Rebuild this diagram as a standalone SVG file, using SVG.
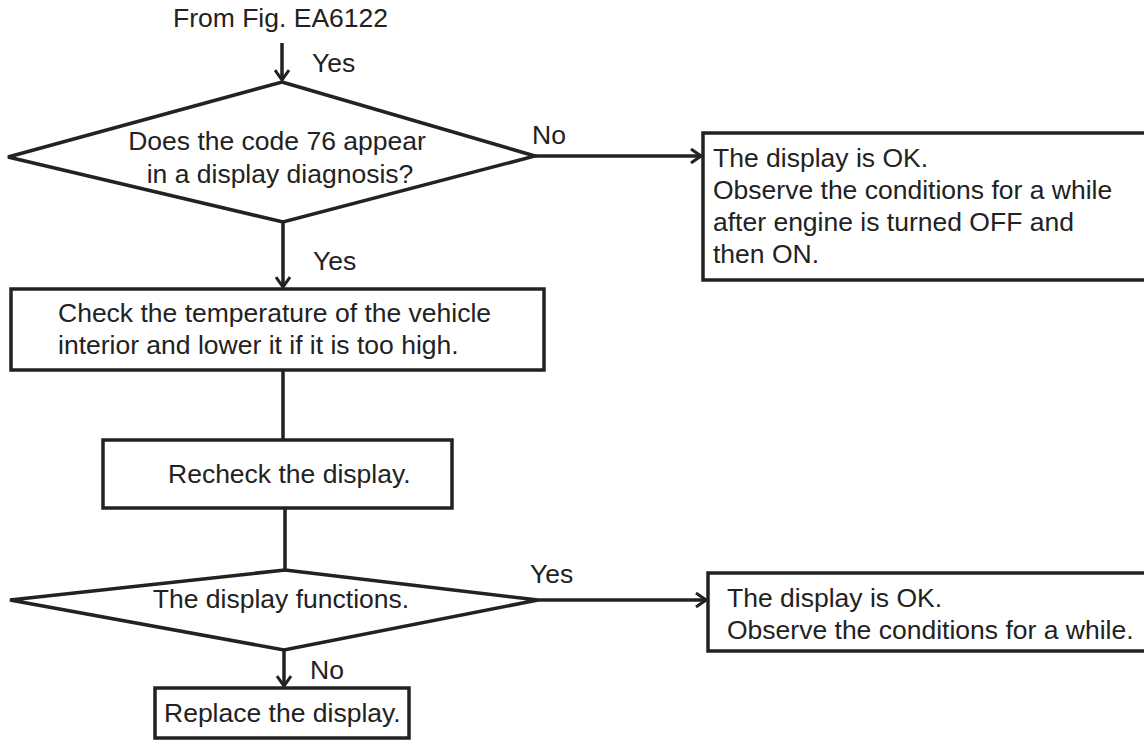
<svg xmlns="http://www.w3.org/2000/svg" width="1144" height="740" viewBox="0 0 1144 740">
<defs>
<style>
.shape{fill:#fff;stroke:#222;stroke-width:3.5;stroke-linejoin:miter}
.conn{fill:none;stroke:#222;stroke-width:3.5}
text{font-family:"Liberation Sans",Arial,sans-serif;font-size:26.5px;fill:#222}
.mid{text-anchor:middle}
</style>
<marker id="arr" viewBox="0 0 12 16" refX="11" refY="8" markerWidth="12" markerHeight="16" markerUnits="userSpaceOnUse" orient="auto">
<path d="M1,1 L11,8 L1,15" fill="none" stroke="#222" stroke-width="3"/>
</marker>
</defs>
<rect width="1144" height="740" fill="#fff"/>
<g id="start">
<text x="173" y="27">From Fig. EA6122</text>
</g>
<g id="decision1">
<polygon class="shape" points="282,82 535,156 283,222 8,157"/>
<text class="mid" x="277" y="150">Does the code 76 appear</text>
<text class="mid" x="280" y="183">in a display diagnosis?</text>
</g>
<g id="ok1">
<rect class="shape" x="703" y="133" width="460" height="147"/>
<text x="713" y="167">The display is OK.</text>
<text x="713" y="199">Observe the conditions for a while</text>
<text x="713" y="231">after engine is turned OFF and</text>
<text x="713" y="263">then ON.</text>
</g>
<g id="check">
<rect class="shape" x="11" y="289" width="533" height="81"/>
<text x="58" y="322">Check the temperature of the vehicle</text>
<text x="58" y="354">interior and lower it if it is too high.</text>
</g>
<g id="recheck">
<rect class="shape" x="103" y="440" width="349" height="68"/>
<text x="168" y="483">Recheck the display.</text>
</g>
<g id="decision2">
<polygon class="shape" points="285,570 538,600 284,650 10,600"/>
<text class="mid" x="281" y="608">The display functions.</text>
</g>
<g id="ok2">
<rect class="shape" x="708" y="573" width="460" height="78"/>
<text x="727" y="607">The display is OK.</text>
<text x="727" y="639">Observe the conditions for a while.</text>
</g>
<g id="replace">
<rect class="shape" x="155" y="688" width="254" height="50"/>
<text x="164" y="722">Replace the display.</text>
</g>
<g id="connectors">
<line class="conn" x1="282" y1="43" x2="282" y2="80" marker-end="url(#arr)"/>
<text x="312" y="72">Yes</text>
<line class="conn" x1="535" y1="156" x2="701" y2="156" marker-end="url(#arr)"/>
<text x="532" y="144">No</text>
<line class="conn" x1="283" y1="222" x2="283" y2="287" marker-end="url(#arr)"/>
<text x="313" y="270">Yes</text>
<line class="conn" x1="283" y1="370" x2="283" y2="440"/>
<line class="conn" x1="285" y1="508" x2="285" y2="570"/>
<line class="conn" x1="538" y1="600" x2="706" y2="600" marker-end="url(#arr)"/>
<text x="530" y="583">Yes</text>
<line class="conn" x1="284" y1="650" x2="284" y2="686" marker-end="url(#arr)"/>
<text x="310" y="679">No</text>
</g>
</svg>
